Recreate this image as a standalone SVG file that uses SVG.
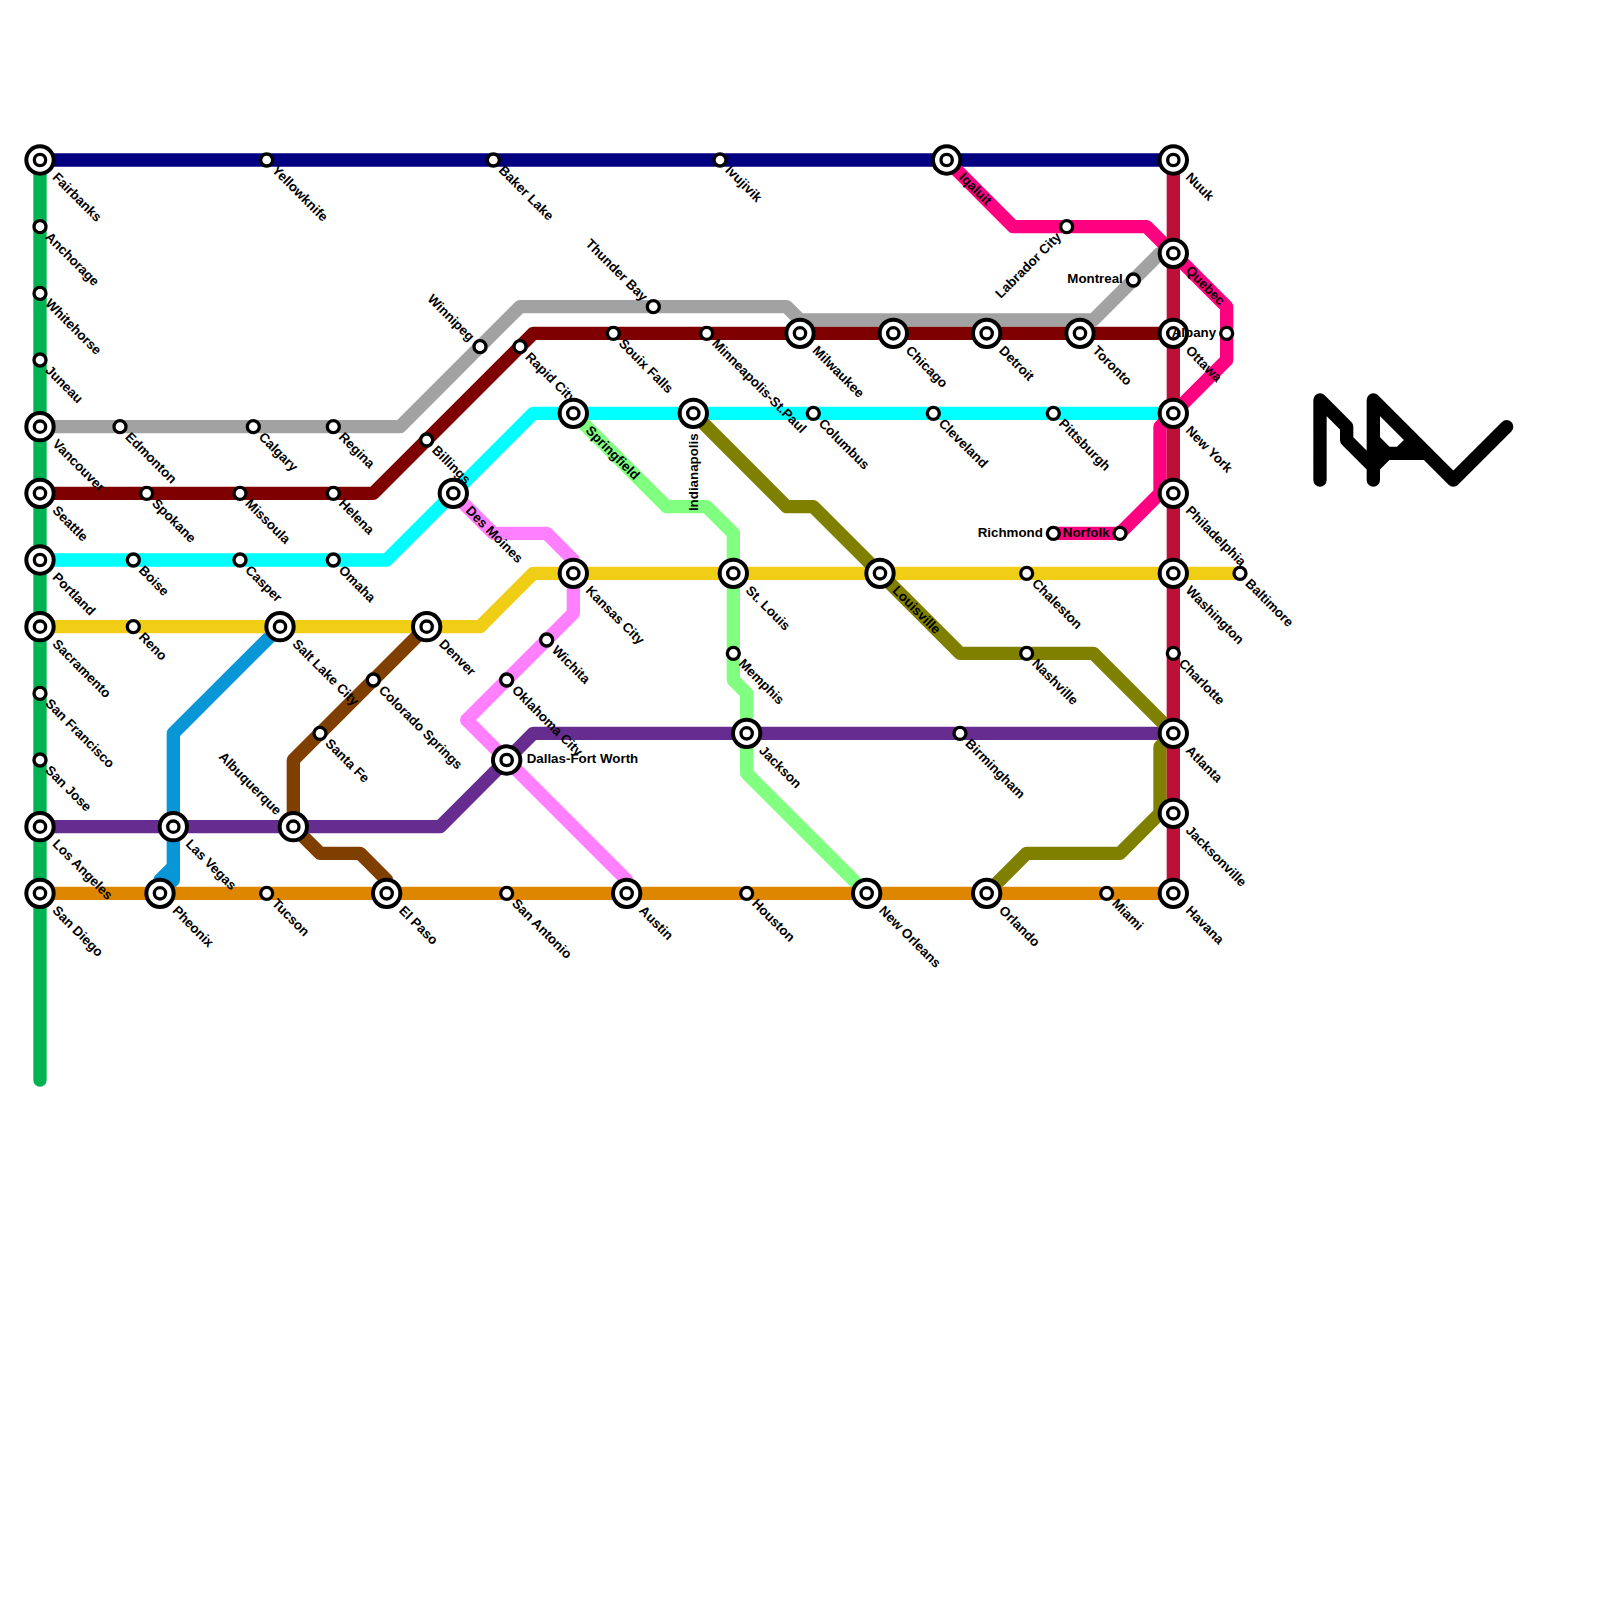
<svg xmlns="http://www.w3.org/2000/svg" xmlns:xlink="http://www.w3.org/1999/xlink" width="1600" height="1600" viewBox="0 0 1600 1600">
<style>
text{font-family:"Liberation Sans",Arial,sans-serif;font-size:13.33px;font-weight:700;fill:#000}
.line{fill:none;stroke-width:1;stroke-linecap:round;stroke-linejoin:round}
.r{dominant-baseline:central}
.e{text-anchor:end;dominant-baseline:central}
</style>
<defs>
<g id="big"><circle r="13.67" fill="#fff" stroke="#000" stroke-width="4"/><circle r="5.67" fill="#fff" stroke="#000" stroke-width="3.33"/></g>
<g id="sm"><circle r="6" fill="#fff" stroke="#000" stroke-width="3.33"/></g>
</defs>
<rect width="1600" height="1600" fill="#fff"/>
<g id="connectors" transform="scale(13.33333)">
<path class="line" stroke="#0896d7" d="M21,47L13,55V66L12,67M13,65L12,66V67"/>
<path class="line" stroke="#00b251" d="M3,12V81"/>
<path class="line" stroke="#a2a2a2" d="M3,32H30L39,23H59L60,24H82L87,19H88"/>
<path class="line" stroke="#7f0000" d="M3,37H28L40,25H88"/>
<path class="line" stroke="#00ffff" d="M3,42H29L40,31H88"/>
<path class="line" stroke="#f0ce15" d="M3,47H36L40,43H93"/>
<path class="line" stroke="#7f3f00" d="M32,47L22,57V62L24,64H27L29,66V67"/>
<path class="line" stroke="#662c90" d="M3,62H33L40,55H88"/>
<path class="line" stroke="#ff80ff" d="M34,37L37,40H41L43,42V46L35,54L47,66V67"/>
<path class="line" stroke="#80ff80" d="M43,31L50,38H53L55,40V51L56,52V58L65,67"/>
<path class="line" stroke="#808000" d="M52,31L59,38H61L72,49H82L88,55L87,56V61L84,64H77L74,67"/>
<path class="line" stroke="#df8600" d="M3,67H88"/>
<path class="line" stroke="#000080" d="M3,12H88"/>
<path class="line" stroke="#ff0080" d="M71,12L76,17H86L92,23V27L87,32V37L84,40H79"/>
<path class="line" stroke="#bd1038" d="M88,12V67"/>
</g>
<g id="logo" transform="scale(13.33333)">
<path class="line" stroke="#000" d="M99,36V30L101,32V33L103,35M103,36V30L109,36L113,32M103,33L104,34H107M103,35L104,34M105,34L106,33"/>
</g>
<g id="stations">
<g id="fairbanks" transform="translate(40 160)"><use href="#big"/><text class="r" transform="rotate(45) translate(21 0)">Fairbanks</text></g>
<g id="anchorage" transform="translate(40 226.67)"><use href="#sm"/><text class="r" transform="rotate(45) translate(11 0)">Anchorage</text></g>
<g id="whitehorse" transform="translate(40 293.33)"><use href="#sm"/><text class="r" transform="rotate(45) translate(11 0)">Whitehorse</text></g>
<g id="juneau" transform="translate(40 360)"><use href="#sm"/><text class="r" transform="rotate(45) translate(11 0)">Juneau</text></g>
<g id="vancouver" transform="translate(40 426.67)"><use href="#big"/><text class="r" transform="rotate(45) translate(21 0)">Vancouver</text></g>
<g id="seattle" transform="translate(40 493.33)"><use href="#big"/><text class="r" transform="rotate(45) translate(21 0)">Seattle</text></g>
<g id="portland" transform="translate(40 560)"><use href="#big"/><text class="r" transform="rotate(45) translate(21 0)">Portland</text></g>
<g id="sacramento" transform="translate(40 626.67)"><use href="#big"/><text class="r" transform="rotate(45) translate(21 0)">Sacramento</text></g>
<g id="san-francisco" transform="translate(40 693.33)"><use href="#sm"/><text class="r" transform="rotate(45) translate(11 0)">San Francisco</text></g>
<g id="san-jose" transform="translate(40 760)"><use href="#sm"/><text class="r" transform="rotate(45) translate(11 0)">San Jose</text></g>
<g id="los-angeles" transform="translate(40 826.67)"><use href="#big"/><text class="r" transform="rotate(45) translate(21 0)">Los Angeles</text></g>
<g id="san-diego" transform="translate(40 893.33)"><use href="#big"/><text class="r" transform="rotate(45) translate(21 0)">San Diego</text></g>
<g id="yellowknife" transform="translate(266.67 160)"><use href="#sm"/><text class="r" transform="rotate(45) translate(11 0)">Yellowknife</text></g>
<g id="baker-lake" transform="translate(493.33 160)"><use href="#sm"/><text class="r" transform="rotate(45) translate(11 0)">Baker Lake</text></g>
<g id="ivujivik" transform="translate(720 160)"><use href="#sm"/><text class="r" transform="rotate(45) translate(11 0)">Ivujivik</text></g>
<g id="iqaluit" transform="translate(946.67 160)"><use href="#big"/><text class="r" transform="rotate(45) translate(21 0)">Iqaluit</text></g>
<g id="nuuk" transform="translate(1173.33 160)"><use href="#big"/><text class="r" transform="rotate(45) translate(21 0)">Nuuk</text></g>
<g id="quebec" transform="translate(1173.33 253.33)"><use href="#big"/><text class="r" transform="rotate(45) translate(21 0)">Quebec</text></g>
<g id="ottawa" transform="translate(1173.33 333.33)"><use href="#big"/><text class="r" transform="rotate(45) translate(21 0)">Ottawa</text></g>
<g id="new-york" transform="translate(1173.33 413.33)"><use href="#big"/><text class="r" transform="rotate(45) translate(21 0)">New York</text></g>
<g id="philadelphia" transform="translate(1173.33 493.33)"><use href="#big"/><text class="r" transform="rotate(45) translate(21 0)">Philadelphia</text></g>
<g id="washington" transform="translate(1173.33 573.33)"><use href="#big"/><text class="r" transform="rotate(45) translate(21 0)">Washington</text></g>
<g id="charlotte" transform="translate(1173.33 653.33)"><use href="#sm"/><text class="r" transform="rotate(45) translate(11 0)">Charlotte</text></g>
<g id="atlanta" transform="translate(1173.33 733.33)"><use href="#big"/><text class="r" transform="rotate(45) translate(21 0)">Atlanta</text></g>
<g id="jacksonville" transform="translate(1173.33 813.33)"><use href="#big"/><text class="r" transform="rotate(45) translate(21 0)">Jacksonville</text></g>
<g id="havana" transform="translate(1173.33 893.33)"><use href="#big"/><text class="r" transform="rotate(45) translate(21 0)">Havana</text></g>
<g id="edmonton" transform="translate(120 426.67)"><use href="#sm"/><text class="r" transform="rotate(45) translate(11 0)">Edmonton</text></g>
<g id="calgary" transform="translate(253.33 426.67)"><use href="#sm"/><text class="r" transform="rotate(45) translate(11 0)">Calgary</text></g>
<g id="regina" transform="translate(333.33 426.67)"><use href="#sm"/><text class="r" transform="rotate(45) translate(11 0)">Regina</text></g>
<g id="spokane" transform="translate(146.67 493.33)"><use href="#sm"/><text class="r" transform="rotate(45) translate(11 0)">Spokane</text></g>
<g id="missoula" transform="translate(240 493.33)"><use href="#sm"/><text class="r" transform="rotate(45) translate(11 0)">Missoula</text></g>
<g id="helena" transform="translate(333.33 493.33)"><use href="#sm"/><text class="r" transform="rotate(45) translate(11 0)">Helena</text></g>
<g id="boise" transform="translate(133.33 560)"><use href="#sm"/><text class="r" transform="rotate(45) translate(11 0)">Boise</text></g>
<g id="casper" transform="translate(240 560)"><use href="#sm"/><text class="r" transform="rotate(45) translate(11 0)">Casper</text></g>
<g id="omaha" transform="translate(333.33 560)"><use href="#sm"/><text class="r" transform="rotate(45) translate(11 0)">Omaha</text></g>
<g id="reno" transform="translate(133.33 626.67)"><use href="#sm"/><text class="r" transform="rotate(45) translate(11 0)">Reno</text></g>
<g id="salt-lake-city" transform="translate(280 626.67)"><use href="#big"/><text class="r" transform="rotate(45) translate(21 0)">Salt Lake City</text></g>
<g id="denver" transform="translate(426.67 626.67)"><use href="#big"/><text class="r" transform="rotate(45) translate(21 0)">Denver</text></g>
<g id="las-vegas" transform="translate(173.33 826.67)"><use href="#big"/><text class="r" transform="rotate(45) translate(21 0)">Las Vegas</text></g>
<g id="albuquerque" transform="translate(293.33 826.67)"><use href="#big"/><text class="e" transform="rotate(45) translate(-20 0)">Albuquerque</text></g>
<g id="pheonix" transform="translate(160 893.33)"><use href="#big"/><text class="r" transform="rotate(45) translate(21 0)">Pheonix</text></g>
<g id="tucson" transform="translate(266.67 893.33)"><use href="#sm"/><text class="r" transform="rotate(45) translate(11 0)">Tucson</text></g>
<g id="el-paso" transform="translate(386.67 893.33)"><use href="#big"/><text class="r" transform="rotate(45) translate(21 0)">El Paso</text></g>
<g id="san-antonio" transform="translate(506.67 893.33)"><use href="#sm"/><text class="r" transform="rotate(45) translate(11 0)">San Antonio</text></g>
<g id="austin" transform="translate(626.67 893.33)"><use href="#big"/><text class="r" transform="rotate(45) translate(21 0)">Austin</text></g>
<g id="houston" transform="translate(746.67 893.33)"><use href="#sm"/><text class="r" transform="rotate(45) translate(11 0)">Houston</text></g>
<g id="new-orleans" transform="translate(866.67 893.33)"><use href="#big"/><text class="r" transform="rotate(45) translate(21 0)">New Orleans</text></g>
<g id="orlando" transform="translate(986.67 893.33)"><use href="#big"/><text class="r" transform="rotate(45) translate(21 0)">Orlando</text></g>
<g id="miami" transform="translate(1106.67 893.33)"><use href="#sm"/><text class="r" transform="rotate(45) translate(11 0)">Miami</text></g>
<g id="santa-fe" transform="translate(320 733.33)"><use href="#sm"/><text class="r" transform="rotate(45) translate(11 0)">Santa Fe</text></g>
<g id="colorado-springs" transform="translate(373.33 680)"><use href="#sm"/><text class="r" transform="rotate(45) translate(11 0)">Colorado Springs</text></g>
<g id="billings" transform="translate(426.67 440)"><use href="#sm"/><text class="r" transform="rotate(45) translate(11 0)">Billings</text></g>
<g id="des-moines" transform="translate(453.33 493.33)"><use href="#big"/><text class="r" transform="rotate(45) translate(21 0)">Des Moines</text></g>
<g id="rapid-city" transform="translate(520 346.67)"><use href="#sm"/><text class="r" transform="rotate(45) translate(11 0)">Rapid City</text></g>
<g id="winnipeg" transform="translate(480 346.67)"><use href="#sm"/><text class="e" transform="rotate(45) translate(-11 0)">Winnipeg</text></g>
<g id="thunder-bay" transform="translate(653.33 306.67)"><use href="#sm"/><text class="e" transform="rotate(45) translate(-11 0)">Thunder Bay</text></g>
<g id="souix-falls" transform="translate(613.33 333.33)"><use href="#sm"/><text class="r" transform="rotate(45) translate(11 0)">Souix Falls</text></g>
<g id="minneapolis" transform="translate(706.67 333.33)"><use href="#sm"/><text class="r" transform="rotate(45) translate(11 0)">Minneapolis-St.Paul</text></g>
<g id="milwaukee" transform="translate(800 333.33)"><use href="#big"/><text class="r" transform="rotate(45) translate(21 0)">Milwaukee</text></g>
<g id="chicago" transform="translate(893.33 333.33)"><use href="#big"/><text class="r" transform="rotate(45) translate(21 0)">Chicago</text></g>
<g id="detroit" transform="translate(986.67 333.33)"><use href="#big"/><text class="r" transform="rotate(45) translate(21 0)">Detroit</text></g>
<g id="toronto" transform="translate(1080 333.33)"><use href="#big"/><text class="r" transform="rotate(45) translate(21 0)">Toronto</text></g>
<g id="montreal" transform="translate(1133.33 280)"><use href="#sm"/><text class="e" x="-10.5" y="-1.5">Montreal</text></g>
<g id="labrador-city" transform="translate(1066.67 226.67)"><use href="#sm"/><text class="e" transform="rotate(-45) translate(-11 0)">Labrador City</text></g>
<g id="albany" transform="translate(1226.67 333.33)"><use href="#sm"/><text class="e" x="-10.5" y="-1">Albany</text></g>
<g id="springfield" transform="translate(573.33 413.33)"><use href="#big"/><text class="r" transform="rotate(45) translate(21 0)">Springfield</text></g>
<g id="indianapolis" transform="translate(693.33 413.33)"><use href="#big"/><text class="e" transform="rotate(-90) translate(-20 0)">Indianapolis</text></g>
<g id="columbus" transform="translate(813.33 413.33)"><use href="#sm"/><text class="r" transform="rotate(45) translate(11 0)">Columbus</text></g>
<g id="cleveland" transform="translate(933.33 413.33)"><use href="#sm"/><text class="r" transform="rotate(45) translate(11 0)">Cleveland</text></g>
<g id="pittsburgh" transform="translate(1053.33 413.33)"><use href="#sm"/><text class="r" transform="rotate(45) translate(11 0)">Pittsburgh</text></g>
<g id="kansas-city" transform="translate(573.33 573.33)"><use href="#big"/><text class="r" transform="rotate(45) translate(21 0)">Kansas City</text></g>
<g id="st-louis" transform="translate(733.33 573.33)"><use href="#big"/><text class="r" transform="rotate(45) translate(21 0)">St. Louis</text></g>
<g id="louisville" transform="translate(880 573.33)"><use href="#big"/><text class="r" transform="rotate(45) translate(21 0)">Louisville</text></g>
<g id="chaleston" transform="translate(1026.67 573.33)"><use href="#sm"/><text class="r" transform="rotate(45) translate(11 0)">Chaleston</text></g>
<g id="baltimore" transform="translate(1240 573.33)"><use href="#sm"/><text class="r" transform="rotate(45) translate(11 0)">Baltimore</text></g>
<g id="wichita" transform="translate(546.67 640)"><use href="#sm"/><text class="r" transform="rotate(45) translate(11 0)">Wichita</text></g>
<g id="oklahoma-city" transform="translate(506.67 680)"><use href="#sm"/><text class="r" transform="rotate(45) translate(11 0)">Oklahoma City</text></g>
<g id="dallas" transform="translate(506.67 760)"><use href="#big"/><text class="r" x="20" y="-1.5">Dallas-Fort Worth</text></g>
<g id="memphis" transform="translate(733.33 653.33)"><use href="#sm"/><text class="r" transform="rotate(45) translate(11 0)">Memphis</text></g>
<g id="jackson" transform="translate(746.67 733.33)"><use href="#big"/><text class="r" transform="rotate(45) translate(21 0)">Jackson</text></g>
<g id="nashville" transform="translate(1026.67 653.33)"><use href="#sm"/><text class="r" transform="rotate(45) translate(11 0)">Nashville</text></g>
<g id="birmingham" transform="translate(960 733.33)"><use href="#sm"/><text class="r" transform="rotate(45) translate(11 0)">Birmingham</text></g>
<g id="richmond" transform="translate(1053.33 533.33)"><use href="#sm"/><text class="e" x="-10.5" y="-1">Richmond</text></g>
<g id="norfolk" transform="translate(1120 533.33)"><use href="#sm"/><text class="e" x="-10.5" y="-1">Norfolk</text></g>
</g>
</svg>
